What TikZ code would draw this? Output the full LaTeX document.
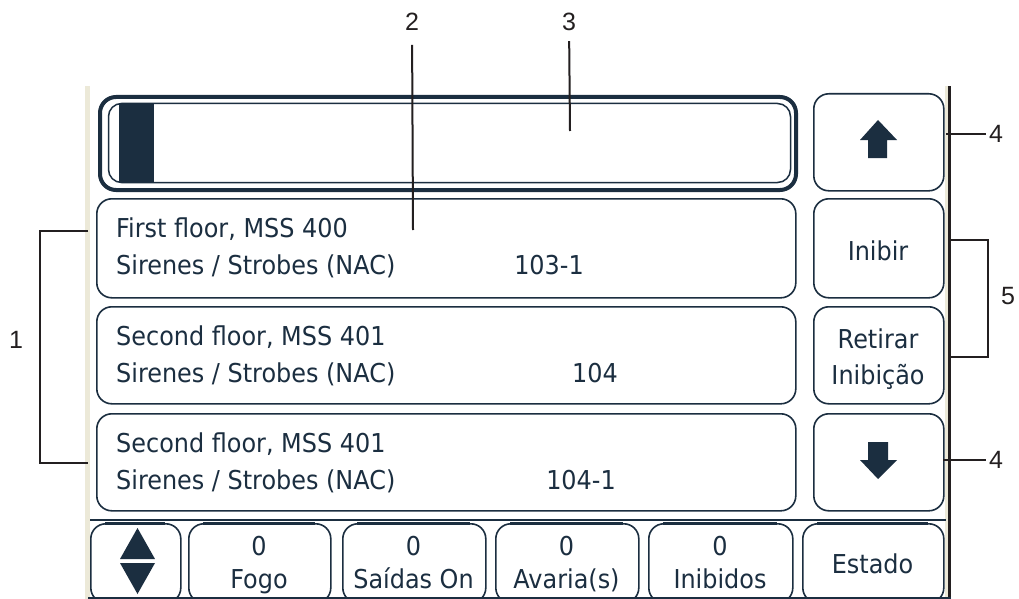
\documentclass[tikz,border=0pt]{standalone}
\usepackage{fontspec}
\newfontfamily\scrfont[FakeStretch=0.92]{DejaVu Sans}
\newfontfamily\callfont{Liberation Sans}
\definecolor{navy}{HTML}{1B2E40}
\definecolor{callc}{HTML}{231F20}
\definecolor{xpbeige}{HTML}{ECE9D8}
\begin{document}
\begin{tikzpicture}[x=1pt,y=-1pt,
  btn/.style={draw=navy,line width=1.6pt,rounded corners=15pt},
  scrtxt/.style={font=\scrfont\fontsize{26}{30}\selectfont,text=navy,inner sep=0pt,anchor=base west},
  ctxt/.style={font=\scrfont\fontsize{26}{30}\selectfont,text=navy,inner sep=0pt,anchor=base},
  callout/.style={draw=callc,line width=2pt},
  clabel/.style={font=\callfont\fontsize{25}{30}\selectfont,text=callc,inner sep=0pt}]
\useasboundingbox (0,0) rectangle (1019,599);
\fill[white] (0,0) rectangle (1019,599);
% screen frame
\fill[xpbeige] (85,86) rectangle (90,599);
\fill[xpbeige] (945,86) rectangle (948,599);
\fill[callc] (948,86) rectangle (951,599);
% progress bar
\draw[navy,line width=4pt,rounded corners=16pt] (100,97) rectangle (796,190);
\draw[navy,line width=1.5pt,rounded corners=13pt] (108.5,103.5) rectangle (790.5,182.5);
\fill[navy] (119,103) rectangle (154,183);
% list items
\node[btn,minimum width=699pt,minimum height=99pt,anchor=north west] (item1) at (96,198) {};
\node[btn,minimum width=699pt,minimum height=97pt,anchor=north west] (item2) at (96,306) {};
\node[btn,minimum width=699pt,minimum height=97pt,anchor=north west] (item3) at (96,413) {};
% right buttons
\node[btn,minimum width=130pt,minimum height=97pt,anchor=north west] (bup) at (813,93) {};
\node[btn,minimum width=130pt,minimum height=99pt,anchor=north west] (binh) at (813,198) {};
\node[btn,minimum width=130pt,minimum height=97pt,anchor=north west] (bret) at (813,306) {};
\node[btn,minimum width=130pt,minimum height=97pt,anchor=north west] (bdown) at (813,413) {};
% texts of list items
\node[scrtxt] (t11) at (116,237) {First floor, MSS 400};
\node[scrtxt] (t12) at (116,274) {Sirenes / Strobes (NAC)};
\node[ctxt] (t13) at (549,274) {103-1};
\node[scrtxt] (t21) at (116,345) {Second floor, MSS 401};
\node[scrtxt] (t22) at (116,382) {Sirenes / Strobes (NAC)};
\node[ctxt] (t23) at (595,382) {104};
\node[scrtxt] (t31) at (116,452) {Second floor, MSS 401};
\node[scrtxt] (t32) at (116,489) {Sirenes / Strobes (NAC)};
\node[ctxt] (t33) at (581,489) {104-1};
% right button texts
\node[ctxt] (tinh) at (878,260) {Inibir};
\node[ctxt] (tret1) at (878,348) {Retirar};
\node[ctxt] (tret2) at (878,384) {Inibição};
% arrows
\fill[navy] (878,120) -- (897,140) -- (887,140) -- (887,158) -- (868,158) -- (868,140) -- (860,140) -- cycle;
\fill[navy] (878,479) -- (897,460) -- (888,460) -- (888,442) -- (868,442) -- (868,460) -- (860,460) -- cycle;
% bottom bar
\draw[navy,line width=1.2pt] (90,520) -- (946,520);
\begin{scope}
\clip (88,510) rectangle (948,597);
\foreach \xa/\xb/\nm in {90/180/ba,188/330/bb,342/485/bc,495/638/bd,648/792/be,802/943/bf}{
  \node[btn,minimum width={\xb-\xa},minimum height=79pt,anchor=north west] (\nm) at (\xa,523) {};
  \draw[navy,line width=3pt] ({\xa+15},523) -- ({\xb-15},523);
}
\end{scope}
\fill[navy] (88,596.5) rectangle (951,599);
\fill[navy] (137.5,528) -- (155,559) -- (120,559) -- cycle;
\fill[navy] (120,563) -- (155,563) -- (137.5,594) -- cycle;
\node[ctxt] (f0) at (259,555) {0};
\node[ctxt] (f1) at (259,588) {Fogo};
\node[ctxt] (s0) at (413.5,555) {0};
\node[ctxt] (s1) at (413.5,588) {Saídas On};
\node[ctxt] (a0) at (566.5,555) {0};
\node[ctxt] (a1) at (566.5,588) {Avaria(s)};
\node[ctxt] (i0) at (720,555) {0};
\node[ctxt] (i1) at (720,588) {Inibidos};
\node[ctxt] (est) at (872.5,573) {Estado};
% callouts
\node[clabel] (l2) at (412,22) {2};
\node[clabel] (l3) at (569,22) {3};
\node[clabel] (l4a) at (996,134) {4};
\node[clabel] (l4b) at (996,460) {4};
\node[clabel] (l5) at (1008,296) {5};
\node[clabel] (l1) at (16,340) {1};
\coordinate (c2) at (413,230);
\coordinate (c3) at (570,131);
\coordinate (c4a) at (946,134);
\coordinate (c4b) at (943,460);
\draw[callout,shorten <=14pt] (l2) -- (c2);
\draw[callout,shorten <=10pt] (l3) -- (c3);
\draw[callout,shorten >=3pt] (c4a) -- (l4a);
\draw[callout,shorten >=3pt] (c4b) -- (l4b);
\coordinate (b5a) at (948,240);
\coordinate (b5b) at (988,240);
\coordinate (b5c) at (988,357);
\coordinate (b5d) at (948,357);
\draw[callout] (b5a) -- (b5b) -- (b5c) -- (b5d);
\coordinate (b1a) at (88,231);
\coordinate (b1b) at (40,231);
\coordinate (b1c) at (40,463);
\coordinate (b1d) at (88,463);
\draw[callout] (b1a) -- (b1b) -- (b1c) -- (b1d);
\end{tikzpicture}
\end{document}
